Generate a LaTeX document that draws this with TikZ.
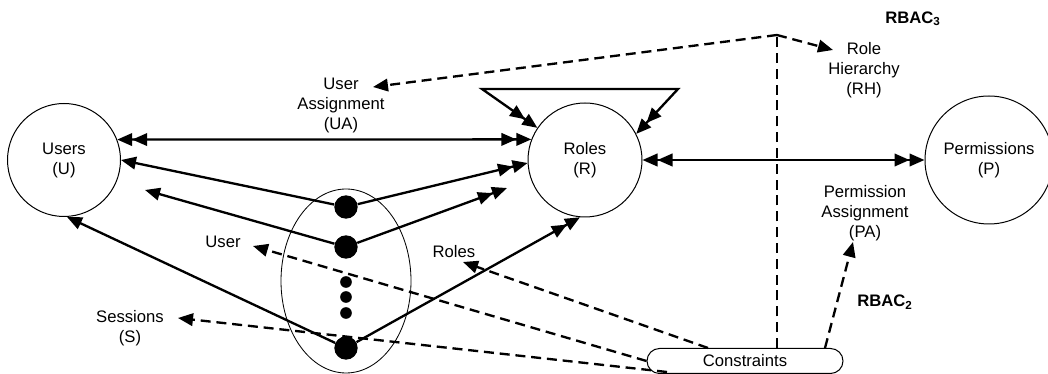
\documentclass[tikz,border=0pt]{standalone}
\usepackage{fontspec}
\setmainfont{Liberation Sans}
\usetikzlibrary{arrows.meta,shapes.geometric}

\begin{document}
\begin{tikzpicture}[x=0.6pt, y=-0.6pt,
  every node/.style={font=\fontsize{10}{12}\selectfont, align=center},
  >={Triangle[length=9pt,width=7.5pt]},
  ent/.style={draw, circle, line width=0.6pt, inner sep=0pt},
  bigdot/.style={circle, fill, inner sep=0pt, minimum size=14pt},
  smalldot/.style={circle, fill, inner sep=0pt, minimum size=7pt},
  link/.style={line width=1.4pt},
  dsh/.style={line width=1.4pt, dash pattern=on 6pt off 3.5pt}]

  \useasboundingbox (0,0) rectangle (1048,374);

  \def\dx{346};

	%draw entities
  \node[ent, minimum size=67.8pt] (users) at (64,160) {Users\\(U)};
  \node[ent, minimum size=68.4pt] (roles) at (585,160) {Roles\\(R)};
  \node[ent, minimum size=76.8pt] (perms) at (989,160) {Permissions\\(P)};

  \node[draw, ellipse, line width=0.5pt, minimum width=78pt, minimum height=110.4pt] (sess) at (\dx,281) {};
  \node[draw, rounded corners=7.5pt, line width=0.6pt, inner sep=1pt,
        minimum width=117.6pt, minimum height=15pt] (cons) at (745,361) {Constraints};

	%draw sessions
    \foreach \y/\name in {207/d1,247/d2,348/d3}{
         \node[bigdot] (\name) at (\dx,\y) {};
    }
    \foreach \y/\name in {282/e1,297/e2,313/e3}{
         \node[smalldot] (\name) at (\dx,\y) {};
    }

	%labels
  \node (ua) at (341,105) {User\\Assignment\\(UA)};
  \node (rh) at (864,70) {Role\\Hierarchy\\(RH)};
  \node (pa) at (865,213) {Permission\\Assignment\\(PA)};
  \node (usrlbl) at (223,242) {User};
  \node (rollbl) at (454,252) {Roles};
  \node (sesslbl) at (130,328) {Sessions\\(S)};
  \node (rbac3) at (913,19) {\textbf{RBAC\textsubscript{3}}};
  \node (rbac2) at (885,302) {\textbf{RBAC\textsubscript{2}}};

	%free ends
  \coordinate (hl) at (482,89);
  \coordinate (hr) at (678,89);
  \coordinate (u2) at (145,190);
  \coordinate (r2) at (507,188);
  \coordinate (apex) at (777,35);
  \coordinate (uatip) at (373,87);
  \coordinate (rhtip) at (833,50);
  \coordinate (patip) at (853,242);
  \coordinate (roltip) at (463,262);
  \coordinate (usrtip) at (253,246);
  \coordinate (sesstip) at (178,318);
  \coordinate (c1) at (825,348);
  \coordinate (c2) at (708,348);
  \coordinate (c3) at (667,372);

	%assignments
  \draw[link, <<->>] (users.21) -- (roles.159);
  \draw[link, <<->>] (roles.east) -- (perms.west);
  \draw[link, <<->>] (roles.146) -- (hl) -- (hr) -- (roles.27);

	%sessions
  \draw[link, ->] (d1) -- (users.east);
  \draw[link, ->] (d2) -- (u2);
  \draw[link, ->] (d3) -- (users.-87);
  \draw[link, ->>] (d1) -- (roles.183);
  \draw[link, ->>] (d2) -- (r2);
  \draw[link, ->>] (d3) -- (roles.-95);

	%constraints
  \draw[dsh] (cons.north -| apex) -- (apex);
  \draw[dsh, ->] (apex) -- (uatip);
  \draw[dsh, ->] (apex) -- (rhtip);
  \draw[dsh, ->] (c1) -- (patip);
  \draw[dsh, ->] (c2) -- (roltip);
  \draw[dsh, ->] (cons.west) -- (usrtip);
  \draw[dsh, ->] (c3) -- (sesstip);

\end{tikzpicture}
\end{document}
